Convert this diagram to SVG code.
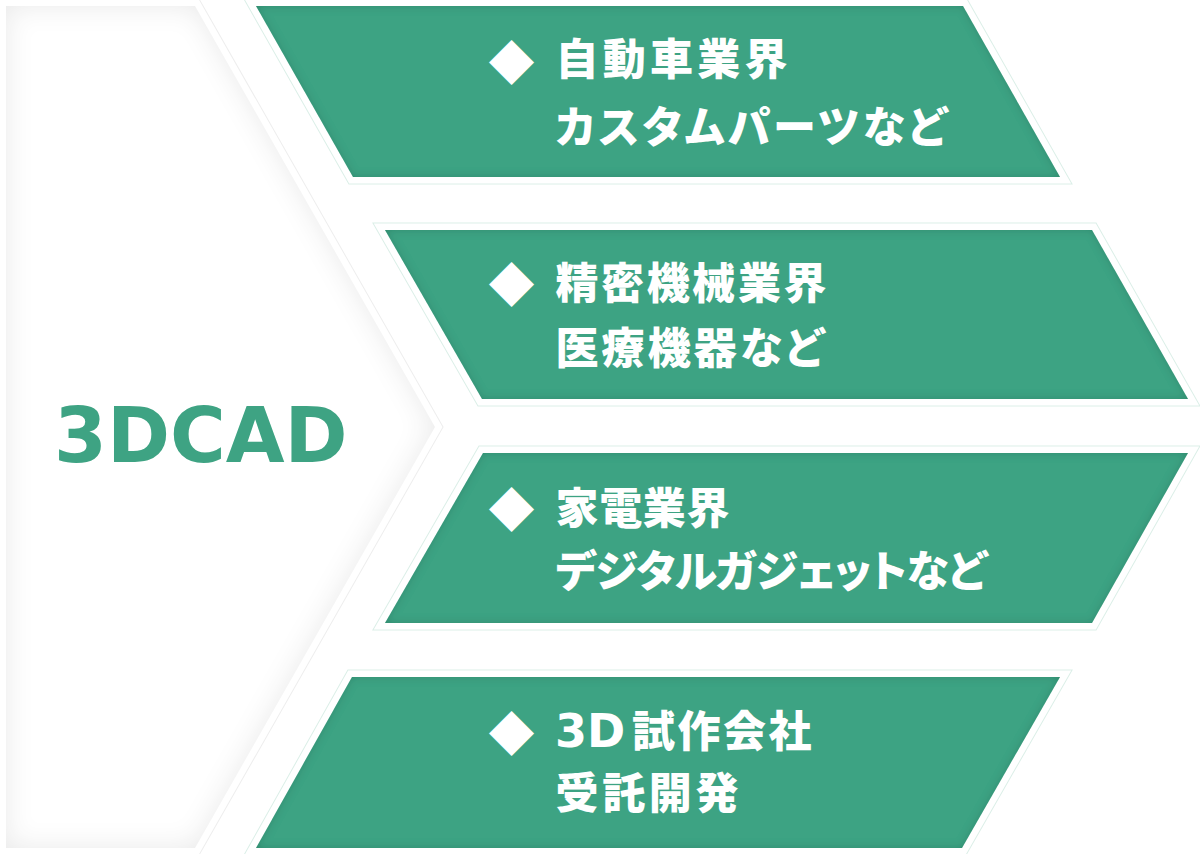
<svg xmlns="http://www.w3.org/2000/svg" width="1200" height="854" viewBox="0 0 1200 854">
  <defs>
    <filter id="insetGray" x="-10%" y="-10%" width="120%" height="120%">
      <feComponentTransfer in="SourceAlpha" result="inv">
        <feFuncA type="table" tableValues="1 0"/>
      </feComponentTransfer>
      <feGaussianBlur in="inv" stdDeviation="14" result="blur"/>
      <feComposite in="blur" in2="SourceAlpha" operator="in" result="inner"/>
      <feFlood flood-color="#000000" flood-opacity="0.19" result="col"/>
      <feComposite in="col" in2="inner" operator="in" result="shadow"/>
      <feMerge>
        <feMergeNode in="SourceGraphic"/>
        <feMergeNode in="shadow"/>
      </feMerge>
    </filter>
    <filter id="insetGreen" x="-5%" y="-10%" width="110%" height="120%">
      <feComponentTransfer in="SourceAlpha" result="inv">
        <feFuncA type="table" tableValues="1 0"/>
      </feComponentTransfer>
      <feGaussianBlur in="inv" stdDeviation="4" result="blur"/>
      <feComposite in="blur" in2="SourceAlpha" operator="in" result="inner"/>
      <feFlood flood-color="#0a3a2a" flood-opacity="0.35" result="col"/>
      <feComposite in="col" in2="inner" operator="in" result="shadow"/>
      <feMerge>
        <feMergeNode in="SourceGraphic"/>
        <feMergeNode in="shadow"/>
      </feMerge>
    </filter>
  </defs>
  <style>
    .halo { fill: #ffffff; stroke: #dcefe8; stroke-width: 15; stroke-linejoin: miter; }
    .halo2 { fill: #ffffff; stroke: #ffffff; stroke-width: 13; stroke-linejoin: miter; }
    .chevHalo { fill: #ffffff; stroke: #eeeeee; stroke-width: 15; stroke-linejoin: miter; }
    .green { fill: #3ea383; filter: url(#insetGreen); }
    .chev { fill: #ffffff; filter: url(#insetGray); }
    .lbl { font-family: "Noto Sans CJK JP", "Noto Sans", sans-serif; font-weight: 900; font-size: 43px; fill: #ffffff; font-feature-settings: "palt"; }
    .lat { font-family: "DejaVu Sans", "Liberation Sans", sans-serif; font-weight: 700; font-size: 46px; }
    .dia { font-family: "Noto Sans CJK JP", "DejaVu Sans", sans-serif; font-size: 46px; fill: #ffffff; }
    .main { font-family: "DejaVu Sans", "Liberation Sans", sans-serif; font-weight: 700; font-size: 76px; fill: #3ea383; }
  </style>
  <rect x="0" y="0" width="1200" height="854" fill="#ffffff"/>

  <g id="node-3dcad">
    <polygon class="chevHalo" points="6,6 195,6 435,427 195,848 6,848"/>
    <polygon class="halo2" points="6,6 195,6 435,427 195,848 6,848"/>
    <polygon class="chev" points="6,6 195,6 435,427 195,848 6,848"/>
    <text class="main" x="54" y="462">3DCAD</text>
  </g>

  <g id="connectors"></g>

  <g id="node-automotive">
    <polygon class="halo" points="256,6 963,6 1060,177 353,177"/>
    <polygon class="halo2" points="256,6 963,6 1060,177 353,177"/>
    <polygon class="green" points="256,6 963,6 1060,177 353,177"/>
    <text class="dia" x="511.5" y="78.5" text-anchor="middle">◆</text>
    <text class="lbl" x="555.5" y="75" textLength="232" lengthAdjust="spacing">自動車業界</text>
    <text class="lbl" x="555.5" y="143" textLength="391" lengthAdjust="spacing">カスタムパーツなど</text>
  </g>

  <g id="node-precision">
    <polygon class="halo" points="385,230 1092,230 1188,399 482,399"/>
    <polygon class="halo2" points="385,230 1092,230 1188,399 482,399"/>
    <polygon class="green" points="385,230 1092,230 1188,399 482,399"/>
    <text class="dia" x="511.5" y="300.5" text-anchor="middle">◆</text>
    <text class="lbl" x="555.5" y="299" textLength="271" lengthAdjust="spacing">精密機械業界</text>
    <text class="lbl" x="555.5" y="364" textLength="268" lengthAdjust="spacing">医療機器など</text>
  </g>

  <g id="node-appliance">
    <polygon class="halo" points="483,453 1188,453 1092,623 385,623"/>
    <polygon class="halo2" points="483,453 1188,453 1092,623 385,623"/>
    <polygon class="green" points="483,453 1188,453 1092,623 385,623"/>
    <text class="dia" x="511.5" y="525.5" text-anchor="middle">◆</text>
    <text class="lbl" x="555.5" y="524" textLength="174" lengthAdjust="spacing">家電業界</text>
    <text class="lbl" x="555.5" y="587" textLength="431" lengthAdjust="spacing">デジタルガジェットなど</text>
  </g>

  <g id="node-prototype">
    <polygon class="halo" points="352,677 1060,677 962,848 256,848"/>
    <polygon class="halo2" points="352,677 1060,677 962,848 256,848"/>
    <polygon class="green" points="352,677 1060,677 962,848 256,848"/>
    <text class="dia" x="511.5" y="749.5" text-anchor="middle">◆</text>
    <text class="lbl" x="555" y="747"><tspan class="lat">3D</tspan><tspan x="632" letter-spacing="2.5">試作会社</tspan></text>
    <text class="lbl" x="555.5" y="809" textLength="183" lengthAdjust="spacing">受託開発</text>
  </g>
</svg>
